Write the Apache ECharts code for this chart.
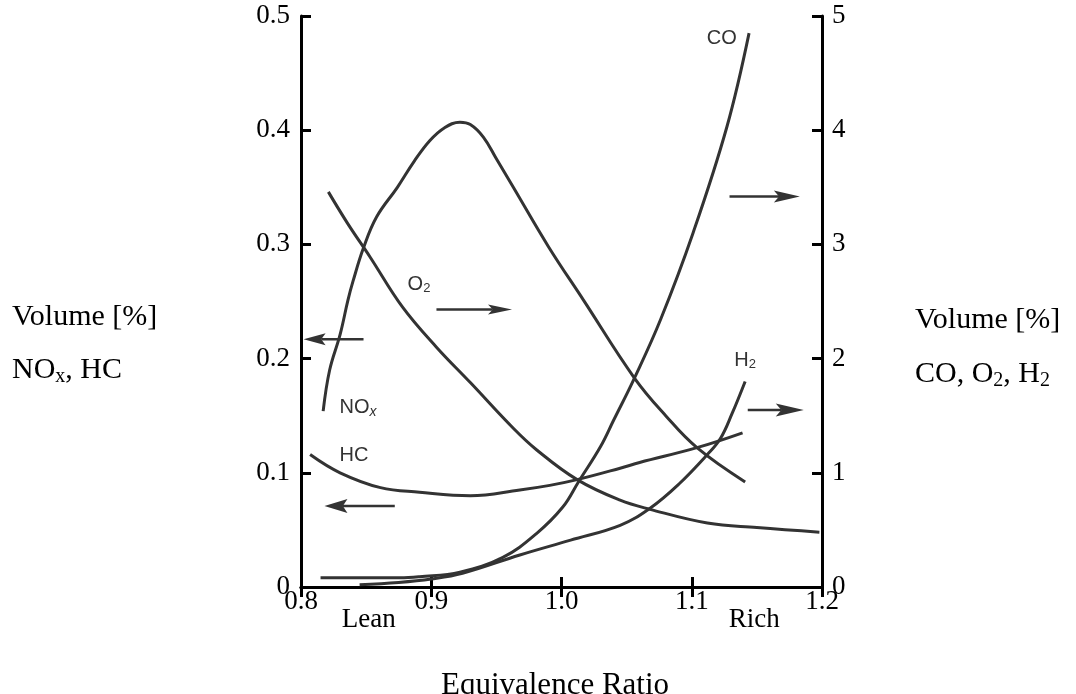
<!DOCTYPE html>
<html>
<head>
<meta charset="utf-8">
<script src="https://cdn.jsdelivr.net/npm/echarts@6/dist/echarts.min.js"></script>
<style>
  html, body { margin: 0; padding: 0; background: #fff; }
  #chart { width: 1076px; height: 694px; }
</style>
</head>
<body>
<div id="chart"></div>
<script>
// equivalence ratio range and tick step
const phiMin = 0.8
const phiMax = 1.2
const phiStep = 0.1
// left axis (NOx, HC) and right axis (CO, O2, H2), volume %
const leftMax = 0.5
const leftStep = 0.1
const rightMax = 5
const rightStep = 1

// [equivalence ratio, volume %]
const noxData = [[0.817, 0.154], [0.822, 0.19], [0.830, 0.221], [0.836, 0.251], [0.840, 0.268], [0.848, 0.297],
  [0.858, 0.324], [0.874, 0.350], [0.887, 0.373], [0.899, 0.391], [0.910, 0.402], [0.922, 0.407], [0.930, 0.405],
  [0.940, 0.394], [0.950, 0.375], [0.963, 0.350], [0.990, 0.298], [1.017, 0.251], [1.056, 0.183], [1.080, 0.150],
  [1.104, 0.122], [1.141, 0.092]]
const hcData = [[0.807, 0.116], [0.830, 0.100], [0.861, 0.087], [0.891, 0.083], [0.930, 0.080], [0.968, 0.085],
  [0.991, 0.089], [1.012, 0.094], [1.045, 0.104], [1.060, 0.109], [1.104, 0.122], [1.139, 0.135]]
const o2Data = [[0.821, 3.46], [0.836, 3.18], [0.853, 2.89], [0.878, 2.45], [0.904, 2.10], [0.930, 1.79],
  [0.963, 1.39], [0.981, 1.20], [1.012, 0.94], [1.045, 0.76], [1.068, 0.68], [1.112, 0.56], [1.150, 0.52], [1.198, 0.48]]
const coData = [[0.815, 0.08], [0.850, 0.08], [0.876, 0.08], [0.891, 0.09], [0.922, 0.13], [0.955, 0.26],
  [0.981, 0.47], [1.001, 0.70], [1.013, 0.92], [1.030, 1.23], [1.040, 1.46], [1.056, 1.83], [1.076, 2.34],
  [1.101, 3.10], [1.127, 4.03], [1.144, 4.85]]
const h2Data = [[0.845, 0.02], [0.875, 0.04], [0.900, 0.07], [0.924, 0.12], [0.968, 0.28], [1.007, 0.41],
  [1.045, 0.54], [1.068, 0.69], [1.090, 0.90], [1.112, 1.16], [1.122, 1.30], [1.131, 1.52], [1.141, 1.80]]

// curve labels: [text, phi, value, axis]
const curveLabels = [
  ['{t|CO}', 1.123, 4.80, 1],
  ['{t|O}{s|2}', 0.8906, 2.645, 1],
  ['{t|NO}{i|x}', 0.8438, 0.157, 0],
  ['{t|HC}', 0.8407, 0.115, 0],
  ['{t|H}{s|2}', 1.1409, 1.98, 1]
]
// arrows showing which axis a curve belongs to: [from phi, to phi, value, axis]
const axisArrows = [
  [0.904, 0.962, 2.43, 1],
  [0.848, 0.802, 0.217, 0],
  [0.872, 0.818, 0.071, 0],
  [1.129, 1.183, 3.42, 1],
  [1.143, 1.186, 1.55, 1]
]
const arrowHeads = [[24, 5], [22, 6], [23, 7], [26, 6], [28, 6.5]]

const serif = '"Liberation Serif", "Times New Roman", serif'
const sans = '"Liberation Sans", Arial, sans-serif'
const ink = '#333'

const chart = echarts.init(document.getElementById('chart'))

function curve (name, data, axis) {
  return {
    name: name,
    type: 'line',
    yAxisIndex: axis,
    data: data,
    smooth: 0.4,
    showSymbol: false,
    silent: true,
    lineStyle: { color: ink, width: 3 }
  }
}

const frameLine = { show: true, lineStyle: { color: '#000', width: 3 } }
const innerTick = { show: true, inside: true, length: 10, lineStyle: { color: '#000', width: 3 } }

chart.setOption({
  animation: false,
  backgroundColor: '#fff',
  grid: { left: 301, right: 254, top: 16, bottom: 107 },
  xAxis: [
    {
      type: 'value',
      min: phiMin,
      max: phiMax,
      interval: phiStep,
      axisLine: frameLine,
      axisTick: innerTick,
      splitLine: { show: false },
      axisLabel: {
        margin: 1,
        fontFamily: serif,
        fontSize: 27,
        color: '#000',
        formatter: function (v) { return v.toFixed(1) }
      }
    },
    {
      type: 'value',
      position: 'top',
      min: phiMin,
      max: phiMax,
      interval: phiStep,
      axisLine: frameLine,
      axisTick: innerTick,
      splitLine: { show: false },
      axisLabel: { show: false }
    }
  ],
  yAxis: [
    {
      type: 'value',
      min: 0,
      max: leftMax,
      interval: leftStep,
      axisLine: frameLine,
      axisTick: innerTick,
      splitLine: { show: false },
      axisLabel: {
        margin: 11,
        fontFamily: serif,
        fontSize: 27,
        color: '#000',
        formatter: function (v) { return v === 0 ? '0' : v.toFixed(1) }
      }
    },
    {
      type: 'value',
      position: 'right',
      min: 0,
      max: rightMax,
      interval: rightStep,
      axisLine: frameLine,
      axisTick: innerTick,
      splitLine: { show: false },
      axisLabel: {
        margin: 10,
        fontFamily: serif,
        fontSize: 27,
        color: '#000'
      }
    }
  ],
  series: [
    curve('NOx', noxData, 0),
    curve('HC', hcData, 0),
    curve('O2', o2Data, 1),
    curve('CO', coData, 1),
    curve('H2', h2Data, 1)
  ]
})

// annotations placed from data coordinates
const graphics = []
const sideRich = {
  t: { fontFamily: serif, fontSize: 30, fill: '#000' },
  s: { fontFamily: serif, fontSize: 20, fill: '#000', padding: [14, 0, 0, 0] }
}
const sideTexts = [
  ['{t|Volume [%]}', 12, 317, 'left'],
  ['{t|NO}{s|x}{t|, HC}', 12, 370, 'left'],
  ['{t|Volume [%]}', 915, 320, 'left'],
  ['{t|CO, O}{s|2}{t|, H}{s|2}', 915, 374, 'left']
]
sideTexts.forEach(function (s) {
  graphics.push({
    type: 'text', silent: true,
    style: { x: s[1], y: s[2], text: s[0], rich: sideRich, align: s[3], verticalAlign: 'middle' }
  })
})

const xAxisTexts = [['Lean', 0.852, 620], ['Rich', 1.148, 620]]
xAxisTexts.forEach(function (t) {
  const p = chart.convertToPixel({ xAxisIndex: 0 }, t[1])
  graphics.push({
    type: 'text', silent: true,
    style: { x: p, y: t[2], text: t[0], fontFamily: serif, fontSize: 27, fill: '#000', align: 'center', verticalAlign: 'middle' }
  })
})
graphics.push({
  type: 'text', silent: true,
  style: { x: 555, y: 686, text: 'Equivalence Ratio', fontFamily: serif, fontSize: 31, fill: '#000', align: 'center', verticalAlign: 'middle' }
})

const labelRich = {
  t: { fontFamily: sans, fontSize: 20, fill: ink },
  s: { fontFamily: sans, fontSize: 13, fill: ink, padding: [7, 0, 0, 0] },
  i: { fontFamily: sans, fontSize: 14, fontStyle: 'italic', fill: ink, padding: [9, 0, 0, 0] }
}
curveLabels.forEach(function (l) {
  const p = chart.convertToPixel({ xAxisIndex: 0, yAxisIndex: l[3] }, [l[1], l[2]])
  graphics.push({
    type: 'text', silent: true,
    style: { x: p[0], y: p[1], text: l[0], rich: labelRich, align: 'center', verticalAlign: 'middle' }
  })
})

axisArrows.forEach(function (a, k) {
  const p1 = chart.convertToPixel({ xAxisIndex: 0, yAxisIndex: a[3] }, [a[0], a[2]])
  const p2 = chart.convertToPixel({ xAxisIndex: 0, yAxisIndex: a[3] }, [a[1], a[2]])
  const dir = p2[0] > p1[0] ? 1 : -1
  const len = arrowHeads[k][0]
  const hw = arrowHeads[k][1]
  const back = p2[0] - dir * len
  const notch = p2[0] - dir * len * 0.8
  graphics.push({
    type: 'line', silent: true,
    shape: { x1: p1[0], y1: p1[1], x2: notch, y2: p2[1] },
    style: { stroke: ink, lineWidth: 2.5 }
  })
  graphics.push({
    type: 'polygon', silent: true,
    shape: { points: [[p2[0], p2[1]], [back, p2[1] - hw], [notch, p2[1]], [back, p2[1] + hw]] },
    style: { fill: ink }
  })
})

chart.setOption({ graphic: graphics })
</script>
</body>
</html>
